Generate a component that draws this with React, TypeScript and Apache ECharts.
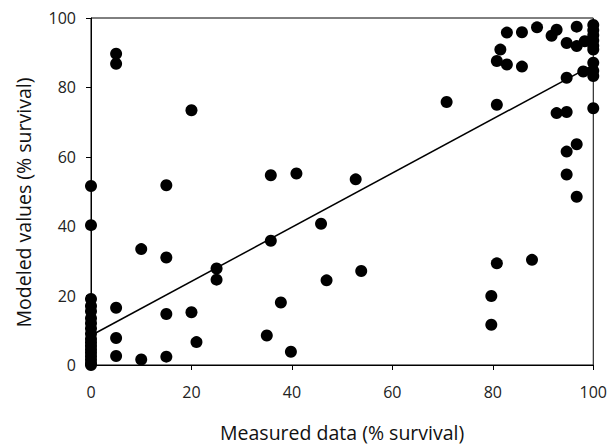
import React, { useEffect, useRef } from "react";
import * as echarts from "echarts";

const measured: number[] = [
  0, 0, 0, 0, 0, 0, 0, 0, 0, 0, 0, 0, 0, 0, 0, 0, 0, 0,
  5, 5, 5, 5, 5,
  10, 10,
  15, 15, 15, 15,
  20, 20, 21,
  25, 25,
  35, 35.8, 35.8, 37.8, 39.8, 40.9, 45.8, 46.9, 52.7, 53.8,
  70.8,
  79.7, 79.7, 80.8, 80.8, 80.8, 81.5, 82.8, 82.8, 85.8, 85.8, 87.8, 88.8,
  91.7, 92.7, 92.7,
  94.7, 94.7, 94.7, 94.7, 94.7,
  96.7, 96.7, 96.7, 96.7, 98, 98.3,
  100, 100, 100, 100, 100, 100, 100, 100, 100, 100,
];

const modeled: number[] = [
  0, 0.5, 1.5, 2.5, 3.5, 4.5, 5.5, 6.5, 7.5, 9, 10.5, 12, 13.5, 15.5, 17, 19, 40.3, 51.6,
  89.7, 86.8, 16.5, 7.8, 2.6,
  33.4, 1.6,
  51.8, 31, 14.7, 2.4,
  73.4, 15.2, 6.6,
  27.8, 24.6,
  8.5, 54.7, 35.8, 18, 3.8, 55.2, 40.7, 24.4, 53.5, 27.1,
  75.8,
  19.9, 11.6, 29.3, 75, 87.6, 90.9, 86.6, 95.8, 95.9, 86, 30.3, 97.3,
  94.9, 96.6, 72.6,
  82.8, 72.9, 61.5, 54.9, 92.8,
  97.5, 91.9, 63.6, 48.5, 84.6, 93.3,
  98, 96.5, 95, 93.5, 92, 90.9, 87.1, 84.8, 83.3, 74,
];

const fitX: number[] = [0, 100];
const fitY: number[] = [8.5, 86.5];

const xTicks: number[] = [0, 20, 40, 60, 80, 100];
const yTicks: number[] = [0, 20, 40, 60, 80, 100];

const FONT = "'Open Sans', sans-serif";

export default function App() {
  const ref = useRef<HTMLDivElement>(null);
  useEffect(() => {
    if (!ref.current) return;
    const chart = echarts.init(ref.current, null, { renderer: "svg" });
    const points = measured.map((x, i) => [x, modeled[i]]);
    const line = fitX.map((x, i) => [x, fitY[i]]);
    chart.setOption({
      animation: false,
      backgroundColor: "#fff",
      grid: {
        left: 91,
        right: 15,
        top: 18,
        bottom: 77,
        show: true,
        borderColor: "#000",
        borderWidth: 1,
        backgroundColor: "transparent",
      },
      xAxis: {
        type: "value",
        min: xTicks[0],
        max: xTicks[xTicks.length - 1],
        interval: 20,
        name: "Measured data (% survival)",
        nameLocation: "middle",
        nameGap: 57,
        nameTextStyle: { fontFamily: FONT, fontSize: 19.5, color: "#111" },
        axisLine: { show: true, onZero: false, lineStyle: { color: "#000", width: 1 } },
        axisTick: { show: true, inside: false, length: 5, lineStyle: { color: "#000" } },
        axisLabel: { fontFamily: FONT, fontSize: 16, color: "#222", margin: 19 },
        splitLine: { show: false },
      },
      yAxis: {
        type: "value",
        min: yTicks[0],
        max: yTicks[yTicks.length - 1],
        interval: 20,
        name: "Modeled values (% survival)",
        nameLocation: "middle",
        nameGap: 58,
        nameRotate: 90,
        nameTextStyle: { fontFamily: FONT, fontSize: 19.5, color: "#111", padding: [0, 0, 0, -22] },
        axisLine: { show: true, onZero: false, lineStyle: { color: "#000", width: 1 } },
        axisTick: { show: true, inside: false, length: 5, lineStyle: { color: "#000" } },
        axisLabel: { fontFamily: FONT, fontSize: 16, color: "#222", margin: 15 },
        splitLine: { show: false },
      },
      series: [
        {
          type: "line",
          data: line,
          symbol: "none",
          lineStyle: { color: "#000", width: 1.5 },
          z: 1,
        },
        {
          type: "scatter",
          data: points,
          symbol: "circle",
          symbolSize: 12,
          itemStyle: { color: "#000", opacity: 1 },
          clip: false,
          z: 2,
        },
      ],
    });
    return () => chart.dispose();
  }, []);
  return (
    <div
      ref={ref}
      style={{ position: "fixed", left: 0, top: 0, width: 610, height: 447 }}
    />
  );
}
